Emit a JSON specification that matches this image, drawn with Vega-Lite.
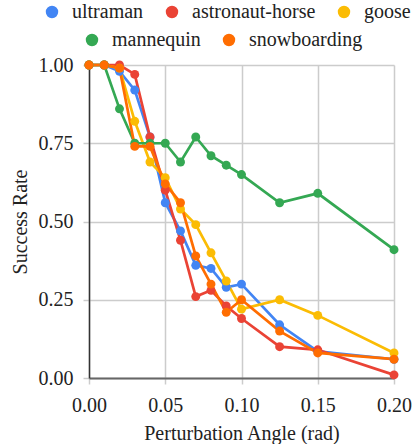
{
  "$schema": "https://vega.github.io/schema/vega-lite/v6.json",
  "width": 305,
  "height": 313,
  "autosize": {"type": "none"},
  "padding": {"left": 89, "top": 65, "right": 21, "bottom": 66},
  "background": "white",
  "config": {
    "font": "'Times New Roman', 'Liberation Serif', serif",
    "view": {"stroke": null},
    "axis": {
      "labelFont": "'Times New Roman', 'Liberation Serif', serif",
      "titleFont": "'Times New Roman', 'Liberation Serif', serif",
      "labelFontSize": 20,
      "titleFontSize": 20,
      "labelColor": "#222222",
      "titleColor": "#222222",
      "titleFontWeight": "normal",
      "gridColor": "#cccccc",
      "gridWidth": 1.5,
      "tickColor": "#cccccc",
      "tickSize": 6,
      "tickWidth": 1.5,
      "labelFlush": false
    },
    "legend": {
      "labelFont": "'Times New Roman', 'Liberation Serif', serif",
      "labelFontSize": 20,
      "labelColor": "#222222"
    }
  },
  "data": {
    "values": [
      {"angle": 0, "series": "ultraman", "rate": 1.0},
      {"angle": 0.01, "series": "ultraman", "rate": 1.0},
      {"angle": 0.02, "series": "ultraman", "rate": 0.98},
      {"angle": 0.03, "series": "ultraman", "rate": 0.92},
      {"angle": 0.04, "series": "ultraman", "rate": 0.77},
      {"angle": 0.05, "series": "ultraman", "rate": 0.56},
      {"angle": 0.06, "series": "ultraman", "rate": 0.47},
      {"angle": 0.07, "series": "ultraman", "rate": 0.36},
      {"angle": 0.08, "series": "ultraman", "rate": 0.35},
      {"angle": 0.09, "series": "ultraman", "rate": 0.29},
      {"angle": 0.1, "series": "ultraman", "rate": 0.30},
      {"angle": 0.125, "series": "ultraman", "rate": 0.17},
      {"angle": 0.15, "series": "ultraman", "rate": 0.085},
      {"angle": 0.2, "series": "ultraman", "rate": 0.06},

      {"angle": 0, "series": "astronaut-horse", "rate": 1.0},
      {"angle": 0.01, "series": "astronaut-horse", "rate": 1.0},
      {"angle": 0.02, "series": "astronaut-horse", "rate": 1.0},
      {"angle": 0.03, "series": "astronaut-horse", "rate": 0.97},
      {"angle": 0.04, "series": "astronaut-horse", "rate": 0.77},
      {"angle": 0.05, "series": "astronaut-horse", "rate": 0.60},
      {"angle": 0.06, "series": "astronaut-horse", "rate": 0.44},
      {"angle": 0.07, "series": "astronaut-horse", "rate": 0.26},
      {"angle": 0.08, "series": "astronaut-horse", "rate": 0.28},
      {"angle": 0.09, "series": "astronaut-horse", "rate": 0.23},
      {"angle": 0.1, "series": "astronaut-horse", "rate": 0.19},
      {"angle": 0.125, "series": "astronaut-horse", "rate": 0.10},
      {"angle": 0.15, "series": "astronaut-horse", "rate": 0.09},
      {"angle": 0.2, "series": "astronaut-horse", "rate": 0.01},

      {"angle": 0, "series": "goose", "rate": 1.0},
      {"angle": 0.01, "series": "goose", "rate": 1.0},
      {"angle": 0.02, "series": "goose", "rate": 0.99},
      {"angle": 0.03, "series": "goose", "rate": 0.82},
      {"angle": 0.04, "series": "goose", "rate": 0.69},
      {"angle": 0.05, "series": "goose", "rate": 0.64},
      {"angle": 0.06, "series": "goose", "rate": 0.54},
      {"angle": 0.07, "series": "goose", "rate": 0.49},
      {"angle": 0.08, "series": "goose", "rate": 0.40},
      {"angle": 0.09, "series": "goose", "rate": 0.31},
      {"angle": 0.1, "series": "goose", "rate": 0.22},
      {"angle": 0.125, "series": "goose", "rate": 0.25},
      {"angle": 0.15, "series": "goose", "rate": 0.20},
      {"angle": 0.2, "series": "goose", "rate": 0.08},

      {"angle": 0, "series": "mannequin", "rate": 1.0},
      {"angle": 0.01, "series": "mannequin", "rate": 1.0},
      {"angle": 0.02, "series": "mannequin", "rate": 0.86},
      {"angle": 0.03, "series": "mannequin", "rate": 0.75},
      {"angle": 0.04, "series": "mannequin", "rate": 0.75},
      {"angle": 0.05, "series": "mannequin", "rate": 0.75},
      {"angle": 0.06, "series": "mannequin", "rate": 0.69},
      {"angle": 0.07, "series": "mannequin", "rate": 0.77},
      {"angle": 0.08, "series": "mannequin", "rate": 0.71},
      {"angle": 0.09, "series": "mannequin", "rate": 0.68},
      {"angle": 0.1, "series": "mannequin", "rate": 0.65},
      {"angle": 0.125, "series": "mannequin", "rate": 0.56},
      {"angle": 0.15, "series": "mannequin", "rate": 0.59},
      {"angle": 0.2, "series": "mannequin", "rate": 0.41},

      {"angle": 0, "series": "snowboarding", "rate": 1.0},
      {"angle": 0.01, "series": "snowboarding", "rate": 1.0},
      {"angle": 0.02, "series": "snowboarding", "rate": 0.99},
      {"angle": 0.03, "series": "snowboarding", "rate": 0.74},
      {"angle": 0.04, "series": "snowboarding", "rate": 0.74},
      {"angle": 0.05, "series": "snowboarding", "rate": 0.62},
      {"angle": 0.06, "series": "snowboarding", "rate": 0.56},
      {"angle": 0.07, "series": "snowboarding", "rate": 0.39},
      {"angle": 0.08, "series": "snowboarding", "rate": 0.30},
      {"angle": 0.09, "series": "snowboarding", "rate": 0.21},
      {"angle": 0.1, "series": "snowboarding", "rate": 0.25},
      {"angle": 0.125, "series": "snowboarding", "rate": 0.15},
      {"angle": 0.15, "series": "snowboarding", "rate": 0.08},
      {"angle": 0.2, "series": "snowboarding", "rate": 0.06}
    ]
  },
  "encoding": {
    "x": {
      "field": "angle",
      "type": "quantitative",
      "title": "Perturbation Angle (rad)",
      "scale": {"domain": [0, 0.2], "nice": false, "zero": false},
      "axis": {
        "values": [0, 0.05, 0.1, 0.15, 0.2],
        "format": ".2f",
        "domainColor": "#666666",
        "domainWidth": 2,
        "labelPadding": 11,
        "titlePadding": 8
      }
    },
    "y": {
      "field": "rate",
      "type": "quantitative",
      "title": "Success Rate",
      "scale": {"domain": [0, 1], "nice": false},
      "axis": {
        "values": [0, 0.25, 0.5, 0.75, 1],
        "format": ".2f",
        "domainColor": "#333333",
        "domainWidth": 1.5,
        "labelPadding": 10,
        "titlePadding": 8
      }
    }
  },
  "layer": [
    {
      "mark": {"type": "line", "strokeWidth": 2.7},
      "encoding": {
        "stroke": {
          "field": "series",
          "type": "nominal",
          "scale": {
            "domain": ["ultraman", "astronaut-horse", "goose", "mannequin", "snowboarding"],
            "range": ["#4285F4", "#EA4335", "#FBBC04", "#34A853", "#FF6D01"]
          },
          "legend": {
            "values": ["ultraman", "astronaut-horse", "goose"],
            "title": null,
            "orient": "none",
            "direction": "horizontal",
            "legendX": -47,
            "legendY": -63,
            "padding": 0,
            "labelFont": "'Times New Roman', 'Liberation Serif', serif",
            "labelFontSize": 20,
            "symbolType": "circle",
            "symbolSize": 154,
            "symbolStrokeWidth": 0,
            "labelOffset": 10,
            "columnPadding": 18,
            "encode": {
              "symbols": {"update": {"fill": {"scale": "stroke", "field": "value"}, "fillOpacity": {"value": 1}}}
            }
          }
        }
      }
    },
    {
      "mark": {"type": "point", "filled": true, "size": 80, "opacity": 1},
      "encoding": {
        "fill": {
          "field": "series",
          "type": "nominal",
          "scale": {
            "domain": ["mannequin", "snowboarding", "ultraman", "astronaut-horse", "goose"],
            "range": ["#34A853", "#FF6D01", "#4285F4", "#EA4335", "#FBBC04"]
          },
          "legend": {
            "values": ["mannequin", "snowboarding"],
            "title": null,
            "orient": "none",
            "direction": "horizontal",
            "legendX": -7,
            "legendY": -35,
            "padding": 0,
            "labelFont": "'Times New Roman', 'Liberation Serif', serif",
            "labelFontSize": 20,
            "symbolType": "circle",
            "symbolSize": 154,
            "symbolOpacity": 1,
            "labelOffset": 10,
            "columnPadding": 18
          }
        }
      }
    }
  ]
}
